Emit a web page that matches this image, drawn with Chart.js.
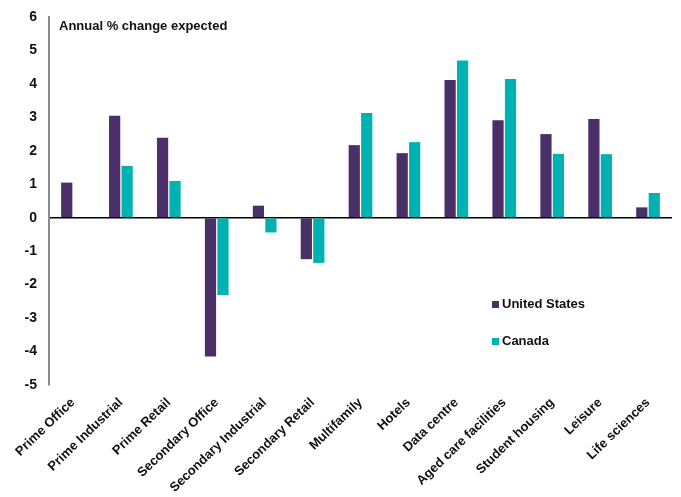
<!DOCTYPE html>
<html>
<head>
<meta charset="utf-8">
<script src="https://cdn.jsdelivr.net/npm/chart.js@4/dist/chart.umd.min.js"></script>
<style>
    html, body { margin: 0; padding: 0; background: #fff; }
    #wrap { position: relative; width: 681px; height: 497px; }
    #chart { position: absolute; left: 0; top: 0; }
    .txt { position: absolute; font-family: "Liberation Sans", Arial, sans-serif; font-weight: bold; font-size: 13px; color: #111; white-space: nowrap; }
    .sw { display: inline-block; width: 7px; height: 7px; margin-right: 3px; vertical-align: 0px; }
</style>
</head>
<body>
<div id="wrap">
    <canvas id="chart" width="681" height="497"></canvas>
    <div class="txt" id="title" style="left:59px; top:18px;">Annual % change expected</div>
    <div class="txt" style="left:492px; top:296px;"><span class="sw" style="background:#4b2f69"></span>United States</div>
    <div class="txt" style="left:492px; top:333px;"><span class="sw" style="background:#00b1b1"></span>Canada</div>
</div>
<script>
/* ---- data ---- */
const categories = [
    'Prime Office', 'Prime Industrial', 'Prime Retail', 'Secondary Office',
    'Secondary Industrial', 'Secondary Retail', 'Multifamily', 'Hotels',
    'Data centre', 'Aged care facilities', 'Student housing', 'Leisure', 'Life sciences'
];
const usValues     = [1.05, 3.05, 2.39, -4.15, 0.36, -1.24, 2.17, 1.93, 4.12, 2.91, 2.50, 2.95, 0.31];
const canadaValues = [null, 1.55, 1.10, -2.31, -0.44, -1.35, 3.13, 2.26, 4.70, 4.15, 1.91, 1.90, 0.74];
const yTicks = [-5, -4, -3, -2, -1, 0, 1, 2, 3, 4, 5, 6];

const COLORS = { us: '#4b2f69', canada: '#00b1b1' };
const FONT = '"Liberation Sans", Arial, sans-serif';

const ctx = document.getElementById('chart');

new Chart(ctx, {
    type: 'bar',
    data: {
        labels: categories,
        datasets: [
            { label: 'United States', data: usValues, backgroundColor: COLORS.us },
            { label: 'Canada', data: canadaValues, backgroundColor: COLORS.canada }
        ]
    },
    options: {
        responsive: false,
        animation: false,
        layout: { padding: { top: 17, right: 9, left: 0, bottom: 0 } },
        datasets: { bar: { categoryPercentage: 0.52, barPercentage: 0.9 } },
        plugins: {
            legend: { display: false },
            tooltip: { enabled: false }
        },
        scales: {
            x: {
                grid: { display: false },
                border: { display: false },
                ticks: {
                    color: '#111',
                    font: { family: FONT, size: 13, weight: 'bold' },
                    minRotation: 44,
                    maxRotation: 44,
                    autoSkip: false,
                    padding: 2
                },
                afterFit(scale) { scale.height = 112; }
            },
            y: {
                min: -5,
                max: 6,
                afterBuildTicks(scale) { scale.ticks = yTicks.map(v => ({ value: v })); },
                grid: {
                    drawTicks: false,
                    lineWidth: 1.5,
                    color: c => (c.tick && c.tick.value === 0 ? '#000' : 'rgba(0,0,0,0)')
                },
                border: { display: true, color: '#8a8a8a', width: 2 },
                ticks: {
                    color: '#111',
                    font: { family: FONT, size: 14, weight: 'bold' },
                    padding: 12
                },
                afterFit(scale) {
                    // fixed axis width, no extra room for the end labels
                    scale.width = 49;
                    scale.paddingTop = 0;
                    scale.paddingBottom = 0;
                }
            }
        }
    }
});
</script>
</body>
</html>
